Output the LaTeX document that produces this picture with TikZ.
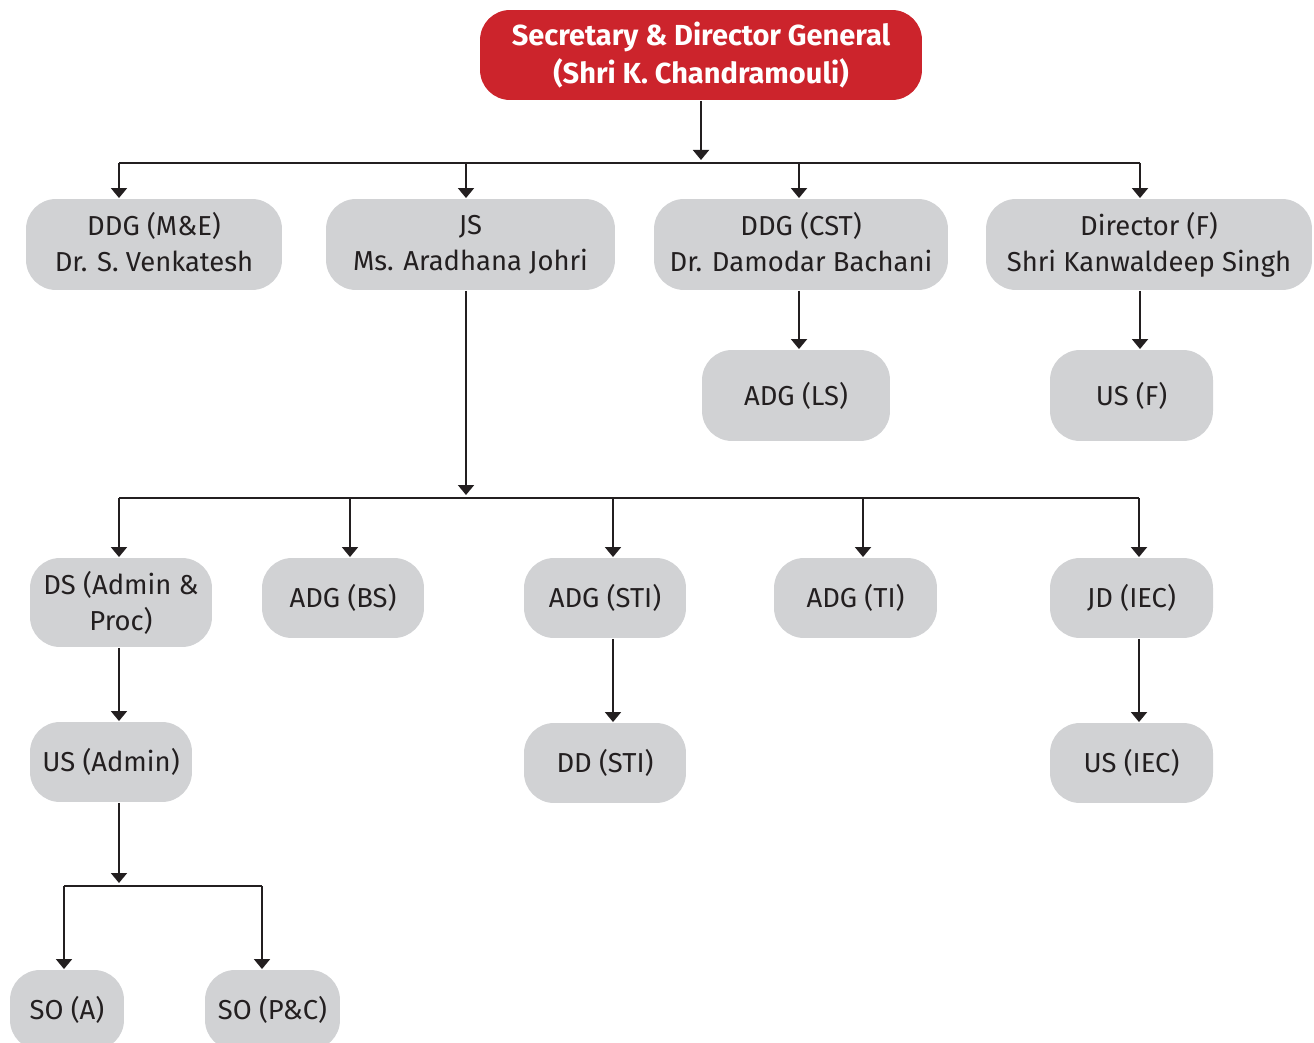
\documentclass[tikz,border=0pt]{standalone}
\usepackage{fontspec}
\setmainfont{Fira Sans}
\usepackage{xcolor}
\usetikzlibrary{arrows.meta}
\definecolor{dgred}{HTML}{CC242C}
\definecolor{boxgray}{HTML}{D1D2D4}
\definecolor{inkgray}{HTML}{231F20}

\begin{document}
\begin{tikzpicture}[x=0.02cm, y=-0.02cm, line width=1.1pt, font=\fontsize{15.6}{20.5}\selectfont]
    \tikzstyle{box} = [rectangle, fill=boxgray, text=inkgray, align=center, rounded corners=0.6cm, inner sep=0pt, minimum height=1.6cm]
    \tikzstyle{head} = [box, fill=dgred, text=white, font=\fontsize{16.5}{21.5}\selectfont\bfseries]
    \tikzstyle{line} = [draw, inkgray]
    \tikzstyle{arr} = [line, -{Triangle[width=0.32cm, length=0.2cm]}]

    \useasboundingbox (0,0) rectangle (1314,1043);
    \clip (0,0) rectangle (1314,1043);

    \node [head, minimum width=8.84cm, minimum height=1.8cm] (sdg) at (701,55) {Secretary \& Director General\\(Shri K. Chandramouli)};
    \node [box, minimum width=5.12cm, minimum height=1.82cm] (ddgme) at (154,244.5) {DDG (M\&E)\\Dr. S. Venkatesh\vphantom{g}};
    \node [box, minimum width=5.78cm, minimum height=1.82cm] (js) at (470.5,244.5) {JS\\Ms. Aradhana Johri};
    \node [box, minimum width=5.88cm, minimum height=1.82cm] (ddgcst) at (801,244.5) {DDG (CST)\\Dr. Damodar Bachani\vphantom{g}};
    \node [box, minimum width=6.52cm, minimum height=1.82cm] (dirf) at (1149,244.5) {Director (F)\\Shri Kanwaldeep Singh};
    \node [box, minimum width=3.76cm, minimum height=1.82cm] (adgls) at (796,395.5) {ADG (LS)};
    \node [box, minimum width=3.26cm, minimum height=1.82cm] (usf) at (1131.5,395.5) {US (F)};

    \node [box, minimum width=3.64cm, minimum height=1.78cm] (ds) at (121,602.5) {DS (Admin \&\\Proc)};
    \node [box, minimum width=3.24cm] (adgbs) at (343,598) {ADG (BS)};
    \node [box, minimum width=3.24cm] (adgsti) at (605,598) {ADG (STI)};
    \node [box, minimum width=3.26cm] (adgti) at (855.5,598) {ADG (TI)};
    \node [box, minimum width=3.26cm] (jdiec) at (1131.5,598) {JD (IEC)};
    \node [box, minimum width=3.24cm] (usadm) at (111,762) {US (Admin)};
    \node [box, minimum width=3.24cm] (ddsti) at (605,763) {DD (STI)};
    \node [box, minimum width=3.26cm] (usiec) at (1131.5,763) {US (IEC)};
    \node [box, minimum width=2.28cm] (soa) at (67,1010) {SO (A)};
    \node [box, minimum width=2.7cm] (sopc) at (272.5,1010) {SO (P\&C)};

    \coordinate (ba) at (701,163);
    \coordinate (ba1) at (119,163);
    \coordinate (ba2) at (466,163);
    \coordinate (ba3) at (799,163);
    \coordinate (ba4) at (1140,163);
    \coordinate (bb) at (466,498);
    \coordinate (bb1) at (119,498);
    \coordinate (bb2) at (350,498);
    \coordinate (bb3) at (613,498);
    \coordinate (bb4) at (863,498);
    \coordinate (bb5) at (1139,498);
    \coordinate (bc) at (119,886);
    \coordinate (bc1) at (64,886);
    \coordinate (bc2) at (262,886);

    \path [arr, shorten >=0.06cm] (sdg.south) -- (ba);
    \path [line] (ba1) -- (ba4);
    \foreach \c/\n in {ba1/ddgme, ba2/js, ba3/ddgcst, ba4/dirf}
        \path [arr] (\c) -- (\c |- \n.north);
    \path [arr] (ba3 |- ddgcst.south) -- (ba3 |- adgls.north);
    \path [arr] (ba4 |- dirf.south) -- (ba4 |- usf.north);

    \path [arr, shorten >=0.06cm] (ba2 |- js.south) -- (bb);
    \path [line] (bb1) -- (bb5);
    \foreach \c/\n in {bb1/ds, bb2/adgbs, bb3/adgsti, bb4/adgti, bb5/jdiec}
        \path [arr] (\c) -- (\c |- \n.north);
    \path [arr] (bb1 |- ds.south) -- (bb1 |- usadm.north);
    \path [arr] (bb3 |- adgsti.south) -- (bb3 |- ddsti.north);
    \path [arr] (bb5 |- jdiec.south) -- (bb5 |- usiec.north);

    \path [arr, shorten >=0.06cm] (bb1 |- usadm.south) -- (bc);
    \path [line] (bc1) -- (bc2);
    \path [arr] (bc1) -- (bc1 |- soa.north);
    \path [arr] (bc2) -- (bc2 |- sopc.north);
\end{tikzpicture}
\end{document}
